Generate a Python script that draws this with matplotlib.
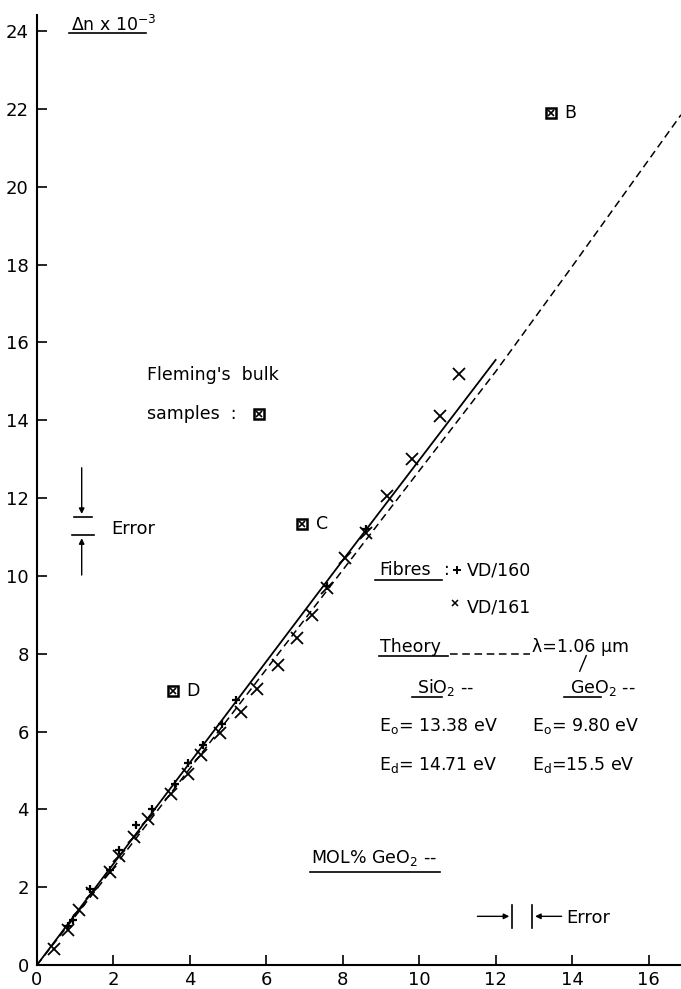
import matplotlib

matplotlib.use("Agg")
import matplotlib.pyplot as plt

# fibre VD/161 (x markers)
vd161_mol = [0.45, 0.8, 1.1, 1.45, 1.9, 2.15, 2.55, 2.9, 3.5, 3.95, 4.3, 4.8, 5.35,
             5.75, 6.3, 6.8, 7.2, 7.6, 8.05, 8.6, 9.15, 9.8, 10.55, 11.05]
vd161_dn = [0.4, 0.9, 1.4, 1.85, 2.4, 2.8, 3.3, 3.75, 4.4, 4.9, 5.4, 5.95, 6.5,
            7.1, 7.7, 8.4, 9.0, 9.7, 10.45, 11.1, 12.05, 13.0, 14.1, 15.2]

# fibre VD/160 (+ markers)
vd160_mol = [0.8, 0.95, 1.4, 1.9, 2.15, 2.6, 3.0, 3.6, 3.95, 4.35, 4.85, 5.2, 7.6, 8.6]
vd160_dn = [1.0, 1.15, 1.95, 2.45, 2.95, 3.6, 4.0, 4.65, 5.2, 5.65, 6.2, 6.8, 9.75, 11.2]

# Fleming's bulk samples
bulk_mol = [13.45, 6.94, 3.55]
bulk_dn = [21.9, 11.34, 7.05]
bulk_names = ["B", "C", "D"]

# fitted line (solid) and theory (dashed)
fit_mol = [0, 4, 8, 12]
fit_dn = [0, 5.2, 10.4, 15.55]
theory_mol = [0, 2, 4, 6, 8, 10, 12, 14, 16.85]
theory_dn = [0, 2.5, 5.05, 7.6, 10.15, 12.7, 15.25, 17.95, 21.85]

plt.rcParams["font.family"] = ["DejaVu Sans"]

fig = plt.figure(figsize=(6.81, 9.89), dpi=100)
ax = fig.add_axes([0.0543, 0.0243, 0.9457, 0.9607])
ax.set_xlim(0, 16.85)
ax.set_ylim(0, 24.42)
for s in ("top", "right"):
    ax.spines[s].set_visible(False)
for s in ("left", "bottom"):
    ax.spines[s].set_linewidth(1.5)
ax.set_xticks(range(0, 17, 2))
ax.set_yticks(range(0, 25, 2))
ax.tick_params(direction="in", length=7, width=1.2, labelsize=13)
ax.tick_params(axis="y", pad=6)
ax.tick_params(axis="x", pad=4)

ax.plot(fit_mol, fit_dn, color="black", lw=1.3)
ax.plot(theory_mol, theory_dn, color="black", lw=1.1, dashes=(5, 3))
ax.plot(vd161_mol, vd161_dn, "x", color="black", ms=8, mew=1.3)
ax.plot(vd160_mol, vd160_dn, "+", color="black", ms=6, mew=1.6)

# bulk samples: boxed cross
ax.plot(bulk_mol, bulk_dn, "s", mfc="white", mec="black", ms=7, mew=1.8)
ax.plot(bulk_mol, bulk_dn, "x", color="black", ms=4, mew=1.2)
for xm, yv, nm in zip(bulk_mol, bulk_dn, bulk_names):
    ax.text(xm + 0.35, yv, nm, fontsize=12.5, va="center", ha="left")

fs = 12.5
# y-axis label with underline
ax.text(0.9, 24.15, r"$\Delta$n x 10$^{-3}$", fontsize=fs, va="center")
ax.plot([0.85, 2.85], [23.95, 23.95], color="black", lw=1.2, clip_on=False)

ax.text(2.88, 15.17, "Fleming's  bulk", fontsize=fs, va="center")
ax.text(2.88, 14.15, "samples  :", fontsize=fs, va="center")
ax.plot([5.81], [14.15], "s", mfc="white", mec="black", ms=7, mew=1.8)
ax.plot([5.81], [14.15], "x", color="black", ms=4, mew=1.2)

# vertical error indicator
ax.annotate("", xy=(1.17, 11.52), xytext=(1.17, 12.85),
            arrowprops=dict(arrowstyle="-|>", color="black", lw=1, mutation_scale=8))
ax.annotate("", xy=(1.17, 11.04), xytext=(1.17, 9.95),
            arrowprops=dict(arrowstyle="-|>", color="black", lw=1, mutation_scale=8))
ax.plot([0.97, 1.44], [11.52, 11.52], color="black", lw=1.2)
ax.plot([0.92, 1.49], [11.04, 11.04], color="black", lw=1.2)
ax.text(1.94, 11.2, "Error", fontsize=13, va="center")

# horizontal error indicator
ax.annotate("", xy=(12.43, 1.25), xytext=(11.45, 1.25),
            arrowprops=dict(arrowstyle="-|>", color="black", lw=1, mutation_scale=8))
ax.annotate("", xy=(12.96, 1.25), xytext=(13.8, 1.25),
            arrowprops=dict(arrowstyle="-|>", color="black", lw=1, mutation_scale=8))
ax.plot([12.43, 12.43], [0.95, 1.55], color="black", lw=1.2)
ax.plot([12.96, 12.96], [0.95, 1.55], color="black", lw=1.2)
ax.text(13.85, 1.2, "Error", fontsize=13, va="center")

ax.text(7.17, 2.75, r"MOL% GeO$_2$ --", fontsize=fs, va="center")
ax.plot([7.15, 10.55], [2.4, 2.4], color="black", lw=1.2)

# legend block
ax.text(8.95, 10.15, "Fibres", fontsize=fs, va="center")
ax.plot([8.85, 10.6], [9.9, 9.9], color="black", lw=1.2)
ax.text(10.65, 10.15, ":", fontsize=fs, va="center")
ax.plot([11.0], [10.15], "+", color="black", ms=6, mew=1.4)
ax.text(11.25, 10.15, "VD/160", fontsize=fs, va="center")
ax.plot([10.95], [9.3], "x", color="black", ms=5, mew=1.1)
ax.text(11.25, 9.18, "VD/161", fontsize=fs, va="center")

ax.text(8.98, 8.17, "Theory", fontsize=fs, va="center")
ax.plot([8.95, 10.75], [7.94, 7.94], color="black", lw=1.2)
ax.plot([10.8, 12.9], [7.98, 7.98], color="black", lw=1.1, dashes=(5, 3))
ax.text(12.95, 8.17, "\u03bb=1.06 \u00b5m", fontsize=fs, va="center")
ax.plot([14.37, 14.2], [7.95, 7.55], color="black", lw=1)

ax.text(9.95, 7.12, r"SiO$_2$ --", fontsize=fs, va="center")
ax.plot([9.8, 10.6], [6.88, 6.88], color="black", lw=1.2)
ax.text(13.95, 7.12, r"GeO$_2$ --", fontsize=fs, va="center")
ax.plot([13.8, 14.75], [6.88, 6.88], color="black", lw=1.2)

ax.text(8.95, 6.15, r"E$_\mathrm{o}$= 13.38 eV", fontsize=fs, va="center")
ax.text(12.95, 6.15, r"E$_\mathrm{o}$= 9.80 eV", fontsize=fs, va="center")
ax.text(8.95, 5.14, r"E$_\mathrm{d}$= 14.71 eV", fontsize=fs, va="center")
ax.text(12.95, 5.14, r"E$_\mathrm{d}$=15.5 eV", fontsize=fs, va="center")

fig.savefig("out.png", dpi=100)
